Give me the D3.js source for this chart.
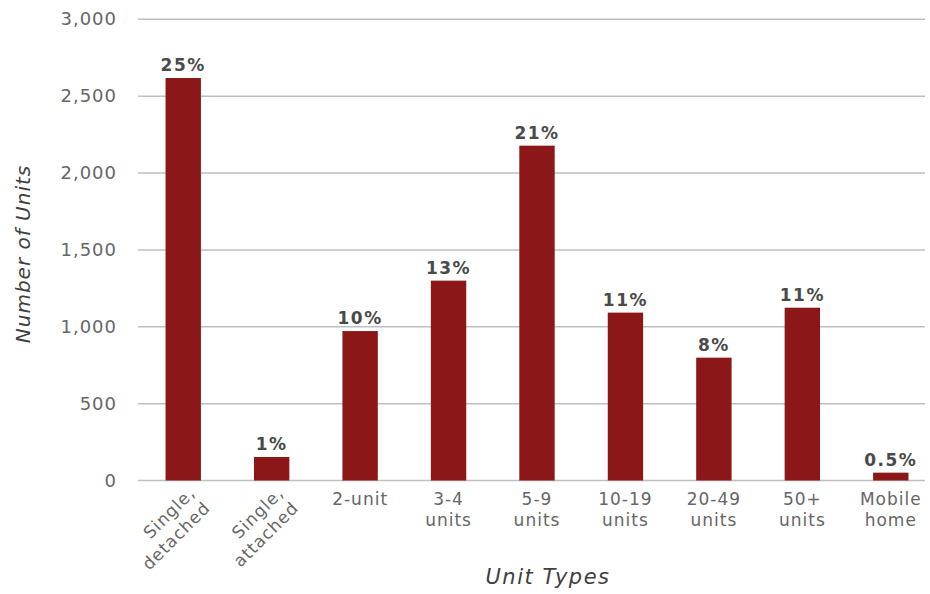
<!DOCTYPE html>
<html>
<head>
<meta charset="utf-8">
<script src="https://cdn.jsdelivr.net/npm/d3@7"></script>
<style>
  body { margin: 0; background: #fff; }
  text { font-family: "Century Gothic", "URW Gothic", "DejaVu Sans", sans-serif; }
</style>
</head>
<body>
<svg id="chart" width="930" height="594"></svg>
<script>
// unit types, counts and the percent labels
var categories = [["Single,", "detached"], ["Single,", "attached"], ["2-unit"], ["3-4", "units"], ["5-9", "units"],
                  ["10-19", "units"], ["20-49", "units"], ["50+", "units"], ["Mobile", "home"]];
var units = [2618, 153, 972, 1300, 2178, 1092, 799, 1124, 51];
var shares = ["25%", "1%", "10%", "13%", "21%", "11%", "8%", "11%", "0.5%"];
var yTicks = [0, 500, 1000, 1500, 2000, 2500, 3000];
var rotated = [true, true, false, false, false, false, false, false, false];

var svg = d3.select('#chart');
var barColor = '#8b1718';

var x = d3.scaleBand().domain(d3.range(categories.length)).range([139, 935])
          .paddingInner(0.6).paddingOuter(0.3);
var y = d3.scaleLinear().domain([0, 3000]).range([480.5, 19.3]);

// gridlines + y labels
var grid = svg.append('g');
grid.selectAll('line').data(yTicks).enter().append('line')
    .attr('x1', 138).attr('x2', 925)
    .attr('y1', function(d){ return y(d); }).attr('y2', function(d){ return y(d); })
    .attr('stroke', '#bfbfbf').attr('stroke-width', 1.5);
grid.selectAll('text').data(yTicks).enter().append('text')
    .attr('x', 117).attr('y', function(d){ return y(d) + 6; })
    .attr('text-anchor', 'end').attr('font-size', 18).attr('fill', '#666')
    .attr('letter-spacing', 1)
    .text(function(d){ return d3.format(',')(d); });

// bars
svg.append('g').selectAll('rect').data(units).enter().append('rect')
    .attr('x', function(d, i){ return x(i); })
    .attr('width', x.bandwidth())
    .attr('y', function(d){ return y(d); })
    .attr('height', function(d){ return y(0) - y(d); })
    .attr('fill', barColor);

// percent labels
svg.append('g').selectAll('text').data(units).enter().append('text')
    .attr('x', function(d, i){ return x(i) + x.bandwidth()/2; })
    .attr('y', function(d){ return y(d) - 7; })
    .attr('text-anchor', 'middle').attr('font-size', 17).attr('font-weight', 'bold')
    .attr('fill', '#4a4a4a').attr('letter-spacing', 1.5)
    .text(function(d, i){ return shares[i]; });

// category labels
var cat = svg.append('g').selectAll('text').data(categories).enter().append('text')
    .attr('font-size', 17).attr('fill', '#666').attr('letter-spacing', 1)
    .attr('text-anchor', function(d, i){ return rotated[i] ? 'end' : 'middle'; })
    .attr('transform', function(d, i){
        var cx = x(i) + x.bandwidth()/2;
        if (rotated[i]) return 'translate(' + (cx + 13) + ',494) rotate(-45)';
        return 'translate(' + cx + ',505)';
    });
cat.selectAll('tspan').data(function(d){ return d; }).enter().append('tspan')
    .attr('x', 0)
    .attr('dy', function(d, j){ return j === 0 ? 0 : '1.25em'; })
    .text(function(d){ return d; });

// axis titles
svg.append('text').attr('x', 548).attr('y', 584).attr('text-anchor', 'middle')
    .attr('font-size', 21).attr('font-style', 'italic').attr('fill', '#404040')
    .attr('letter-spacing', 1.5).text('Unit Types');
svg.append('text').attr('transform', 'translate(30,254) rotate(-90)')
    .attr('text-anchor', 'middle').attr('font-size', 20).attr('font-style', 'italic')
    .attr('fill', '#404040').attr('letter-spacing', 1).text('Number of Units');
</script>
</body>
</html>
